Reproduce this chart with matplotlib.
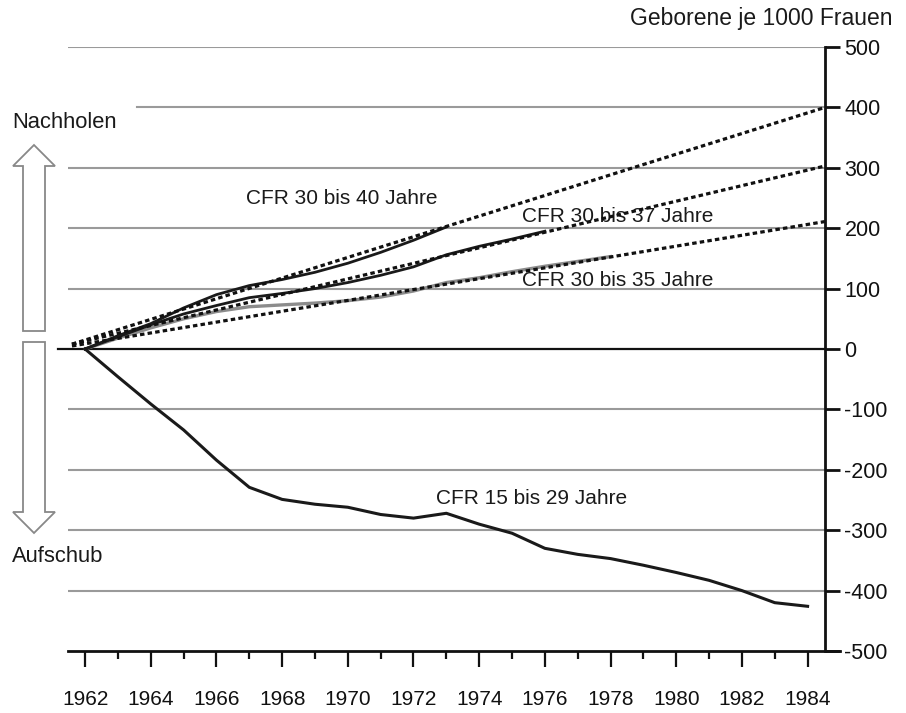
import matplotlib.pyplot as plt
from matplotlib.patches import Polygon
import numpy as np

plt.rcParams['font.family'] = ['Liberation Sans', 'DejaVu Sans']

# cohort fertility differences vs. 1962 (births per 1000 women)
years_15_29 = np.arange(1962, 1985)
cfr_15_29 = [0, -46, -91, -134, -184, -229, -249, -257, -262, -274, -280, -272,
             -290, -305, -330, -340, -347, -358, -370, -383, -400, -420, -426]

years_30_40 = np.arange(1962, 1974)
cfr_30_40 = [0, 22, 42, 68, 90, 105, 115, 127, 142, 160, 180, 202]

years_30_37 = np.arange(1962, 1977)
cfr_30_37 = [0, 20, 40, 58, 72, 85, 92, 100, 110, 122, 136, 156, 170, 182, 195]

years_30_35 = np.arange(1962, 1979)
cfr_30_35 = [0, 18, 35, 50, 62, 70, 73, 76, 80, 86, 96, 110, 118, 128, 137, 145, 153]

# linear trend lines (start / end)
trend_x = [1961.6, 1984.53]
trend_40 = [8, 400]
trend_37 = [8, 303]
trend_35 = [5, 211]

yticks = [500, 400, 300, 200, 100, 0, -100, -200, -300, -400, -500]
xticks_major = np.arange(1962, 1985, 2)
xticks_minor = np.arange(1963, 1985, 2)

fig = plt.figure(figsize=(9.06, 7.13), dpi=100)
ax = fig.add_axes([68/906, 1 - 651/713, 757/906, 604/713])
ax.set_xlim(1961.48, 1984.53)
ax.set_ylim(-500, 500)

grid_c = '#9a9a9a'
for v in yticks:
    if v == 0:
        ax.axhline(0, xmin=-10/757, xmax=1, color='#111111', lw=1.6, clip_on=False, zorder=2)
    elif v == -500:
        ax.axhline(-500, xmin=0, xmax=(840 - 68)/757, color='#111111', lw=2, clip_on=False, zorder=3)
    elif v == 400:
        ax.axhline(v, xmin=(137 - 68)/757, xmax=1, color=grid_c, lw=1.5, zorder=1)
    else:
        ax.axhline(v, color=grid_c, lw=1.5, zorder=1)

dot = (0, (1.4, 1.0))
ax.plot(trend_x, trend_40, color='#111111', lw=2.3, linestyle=dot, zorder=4)
ax.plot(trend_x, trend_37, color='#111111', lw=2.3, linestyle=dot, zorder=4)
ax.plot(trend_x, trend_35, color='#111111', lw=2.3, linestyle=dot, zorder=4)

ax.plot(years_30_35, cfr_30_35, color='#8c8c8c', lw=2.4, zorder=3)
ax.plot(years_30_37, cfr_30_37, color='#1a1a1a', lw=2.0, zorder=3)
ax.plot(years_30_40, cfr_30_40, color='#1a1a1a', lw=2.0, zorder=3)
ax.plot(years_15_29, cfr_15_29, color='#1a1a1a', lw=2.2, zorder=3)

tc = '#1a1a1a'
ax.text(1966.9, 250, 'CFR 30 bis 40 Jahre', fontsize=15, color=tc, va='center')
ax.text(1975.3, 220, 'CFR 30 bis 37 Jahre', fontsize=15, color=tc, va='center')
ax.text(1975.3, 114, 'CFR 30 bis 35 Jahre', fontsize=15, color=tc, va='center')
ax.text(1972.7, -247, 'CFR 15 bis 29 Jahre', fontsize=15, color=tc, va='center')

for s in ['left', 'top', 'bottom']:
    ax.spines[s].set_visible(False)
ax.spines['right'].set_linewidth(2)
ax.spines['right'].set_color('#111111')

ax.yaxis.tick_right()
ax.set_yticks(yticks)
ax.set_yticklabels([str(v) for v in yticks])
ax.tick_params(axis='y', direction='out', length=11, width=2, pad=3,
               labelsize=15.5, colors='#111111')

ax.set_xticks(xticks_major)
ax.set_xticks(xticks_minor, minor=True)
ax.tick_params(axis='x', which='major', direction='out', length=11.5, width=1.6,
               pad=16.5, labelsize=15, colors='#111111')
ax.tick_params(axis='x', which='minor', direction='out', length=6, width=1.6,
               colors='#111111')

fig.text(893/906, 1 - 18/713, 'Geborene je 1000 Frauen', fontsize=16.5,
         color=tc, ha='right', va='center')
fig.text(12/906, 1 - 123/713, 'Nachholen', fontsize=15.8, color=tc, va='center')
fig.text(12/906, 1 - 556/713, 'Aufschub', fontsize=15.8, color=tc, va='center')

# hollow arrows on the left (pixel coordinates overlay)
ov = fig.add_axes([0, 0, 1, 1], zorder=-1)
ov.set_xlim(0, 906)
ov.set_ylim(713, 0)
ov.axis('off')
up = [(23, 331), (45, 331), (45, 166), (55, 166), (34, 145), (13, 166), (23, 166)]
down = [(23, 342), (45, 342), (45, 512), (55, 512), (34, 533), (13, 512), (23, 512)]
ov.add_patch(Polygon(up, closed=True, facecolor='white', edgecolor='#888888', lw=1.3))
ov.add_patch(Polygon(down, closed=True, facecolor='white', edgecolor='#888888', lw=1.3))

fig.savefig('out.png', dpi=100)
